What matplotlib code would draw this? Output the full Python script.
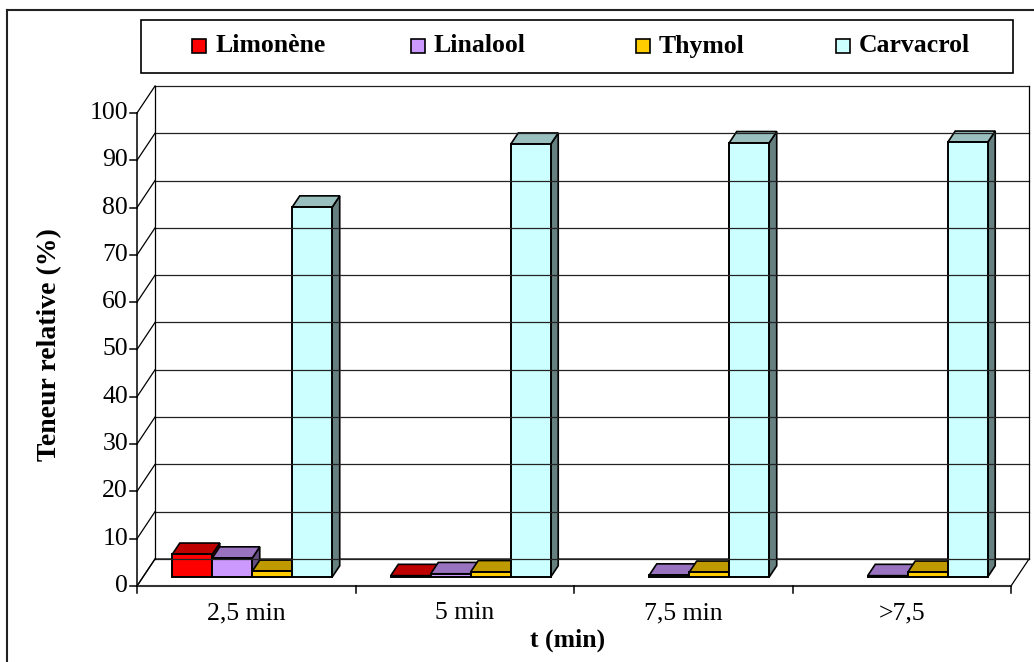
import matplotlib
matplotlib.use("Agg")
import matplotlib.pyplot as plt
from matplotlib.patches import Polygon, Rectangle
from matplotlib.lines import Line2D
from matplotlib.transforms import IdentityTransform
from matplotlib.colors import to_rgb

categories = ["2,5 min", "5 min", "7,5 min", ">7,5"]
series = ["Limonène", "Linalool", "Thymol", "Carvacrol"]
limonene = [4.8, 0.3, 0.0, 0.0]
linalool = [4.0, 0.7, 0.4, 0.3]
thymol = [1.2, 1.1, 1.0, 1.0]
carvacrol = [78.2, 91.5, 91.8, 91.9]
yticks = list(range(0, 101, 10))

colors = ["#FF0000", "#CC99FF", "#FFCC00", "#CCFFFF"]

plt.rcParams['font.family'] = ['Liberation Serif', 'DejaVu Serif']

W, H, DPI = 1034, 662, 100
fig = plt.figure(figsize=(W / DPI, H / DPI), dpi=DPI)
ident = IdentityTransform()


def fx(px):
    return px / W


def fy(py):
    return 1 - py / H


# front plane of the 3d box
x0, x1 = 137, 1011
y0, y1 = 586, 113
ax = fig.add_axes([fx(x0), fy(y0), fx(x1) - fx(x0), fy(y1) - fy(y0)])
n = len(categories)
ax.set_xlim(0, n)
ax.set_ylim(0, 100)
ax.axis('off')

DX, DY = 18, 27  # box depth in pixels


def pt(x, v, f=0.0):
    px, py = ax.transData.transform((x, v))
    return px + f * DX, py + f * DY


def line(p, q, lw=1.0, color='black'):
    ax.add_line(Line2D([p[0], q[0]], [p[1], q[1]], transform=ident,
                       color=color, lw=lw, clip_on=False))


def poly(pts, fc, lw=1.0):
    ax.add_patch(Polygon(pts, closed=True, transform=ident, facecolor=fc,
                         edgecolor='black', lw=lw, clip_on=False))


def shade(c, k):
    r, g, b = to_rgb(c)
    return (r * k, g * k, b * k)


# floor
poly([pt(0, 0), pt(n, 0), pt(n, 0, 1), pt(0, 0, 1)], 'white', lw=0.9)
# back wall grid and side wall diagonals
for t in yticks:
    line(pt(0, t, 1), pt(n, t, 1), lw=0.9, color='#222222')
    line(pt(0, t), pt(0, t, 1), lw=0.9)
line(pt(0, 0, 1), pt(0, 100, 1), lw=0.9)
line(pt(n, 0, 1), pt(n, 100, 1), lw=0.9)
# front axes
line(pt(0, 0), pt(0, 100), lw=1.1)
line(pt(0, 0), pt(n, 0), lw=1.5, color='#333333')
for t in yticks:
    px, py = pt(0, t)
    line((px - 7, py), (px, py), lw=1.1)
    ax.text(px - 9, py, str(t), transform=ident, ha='right', va='center',
            fontsize=18.5)
for k in range(n + 1):
    px, py = pt(k, 0)
    line((px, py), (px, py - 7), lw=1.1)
for j, lab in enumerate(categories):
    px, py = pt(j + 0.5, 0)
    ax.text(px, py - 27, lab, transform=ident, ha='center', va='center',
            fontsize=18.5)

# bars
values = [limonene, linalool, thymol, carvacrol]
bar_w = 0.183
f0, f1 = 0.33, 0.75
for j in range(n):
    start = j + 0.5 - 2 * bar_w
    for i, vals in enumerate(values):
        v = vals[j]
        if v <= 0:
            continue
        xl, xr = start + i * bar_w, start + (i + 1) * bar_w
        c = colors[i]
        poly([pt(xr, 0, f0), pt(xr, 0, f1), pt(xr, v, f1), pt(xr, v, f0)],
             shade(c, 0.5), lw=1.2)
        poly([pt(xl, v, f0), pt(xr, v, f0), pt(xr, v, f1), pt(xl, v, f1)],
             shade(c, 0.75), lw=1.2)
        poly([pt(xl, 0, f0), pt(xr, 0, f0), pt(xr, v, f0), pt(xl, v, f0)], c,
             lw=1.4)

# axis titles
fig.text(fx(50), fy(345), "Teneur relative (%)", rotation=90, ha='center',
         va='center', fontsize=20, fontweight='bold')
fig.text(fx(568), fy(640), "t (min)", ha='center', va='center',
         fontsize=18.5, fontweight='bold')

# legend box
fig.add_artist(Rectangle((fx(141), fy(73)), fx(1013) - fx(141),
                         fy(20) - fy(73), transform=fig.transFigure,
                         facecolor='white', edgecolor='black', lw=1.2))
leg_x = [192, 411, 636, 836]
for name, c, lx in zip(series, colors, leg_x):
    fig.add_artist(Rectangle((fx(lx), fy(53)), fx(14), 14 / H,
                             transform=fig.transFigure, facecolor=c,
                             edgecolor='black', lw=1.2))
    fig.text(fx(lx + 23), fy(46), name, ha='left', va='center',
             fontsize=18.5, fontweight='bold')

# chart frame
fig.add_artist(Line2D([fx(7), fx(7)], [fy(10), 0], transform=fig.transFigure,
                      color='#222222', lw=1.5))
fig.add_artist(Line2D([fx(7), 1], [fy(10), fy(10)], transform=fig.transFigure,
                      color='#222222', lw=1.5))

fig.savefig("out.png", dpi=DPI)
